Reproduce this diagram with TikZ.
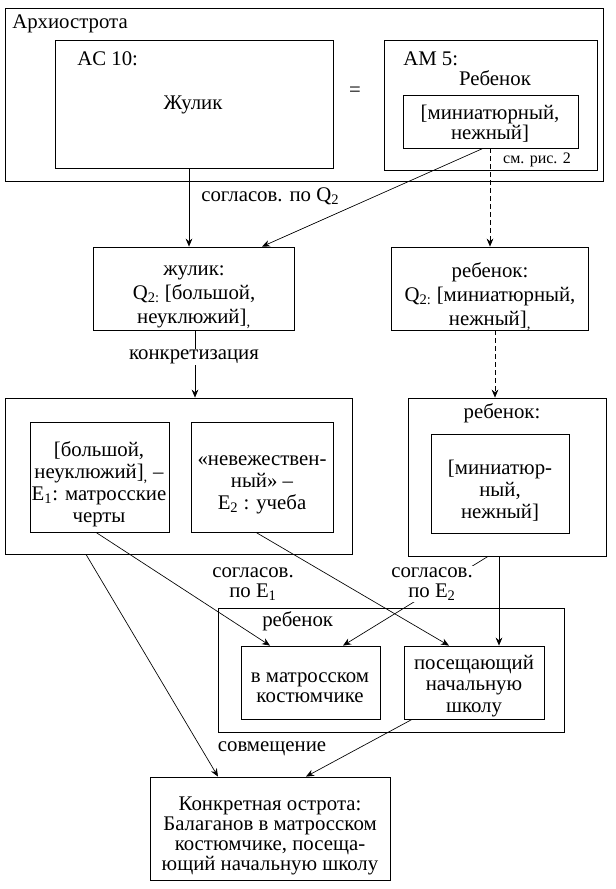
\documentclass[tikz,border=0pt]{standalone}
\usepackage{fontspec}
\setmainfont{Liberation Serif}
\usetikzlibrary{arrows.meta,fit}
\begin{document}
\begin{tikzpicture}[x=0.75pt,y=-0.75pt,
  font=\fontsize{15.6}{16.5}\selectfont,
  box/.style={draw, line width=0.6pt, inner sep=0pt},
  txt/.style={align=center, inner sep=0pt},
  lbl/.style={inner sep=0pt, anchor=mid west},
  arr/.style={-{Stealth[length=6pt,width=5pt]}, line width=0.5pt},
  dsh/.style={arr, dash pattern=on 3.5pt off 2.5pt},
  cover/.style={txt, fill=white, inner sep=1pt},
  wide/.style={font=\fontsize{15.6}{18}\selectfont},
  tight/.style={font=\fontsize{15.6}{15}\selectfont}]
\useasboundingbox (0,0) rectangle (616,889);

% top block
\node[box, fit={(5,8) (603,181)}] (arch) {};
\node[lbl] (archl) at (12,25) {Архиострота};
\node[box, fit={(55,40) (333,168)}] (ac) {};
\node[inner sep=0pt, anchor=base west] (acl) at (77,65) {AC 10:};
\node[txt, anchor=mid] (zhul) at (193,106) {Жулик};
\node[txt] (eq) at (355,92) {=};
\node[box, fit={(384,40) (597,170)}] (am) {};
\node[inner sep=0pt, anchor=base west] (aml) at (403,65) {AM 5:};
\node[box, fit={(403,95) (578,148)}] (amin) {};
\node[inner sep=0pt, anchor=base] (rebl) at (495,85) {Ребенок};
\node[txt, tight] at (490,124) {[миниатюрный,\\нежный]};
\node[inner sep=0pt, anchor=base, font=\fontsize{12}{14}\selectfont] (see) at (537,163) {см. рис. 2};

% second row
\node[box, fit={(93,247) (294,330)}] (zh) {};
\node[txt, wide] at (194,297) {жулик:\\Q\textsubscript{2:} [большой,\\неуклюжий]\textsubscript{,}};
\node[box, fit={(391,247) (588,330)}] (reb) {};
\node[txt, wide] at (490,297) {ребенок:\\Q\textsubscript{2:} [миниатюрный,\\нежный]\textsubscript{,}};

\draw[arr] (ac.south -| 189,0) -- (zh.north -| 189,0);
\node[lbl] (sq) at (201,198) {согласов. по Q\textsubscript{2}};
\draw[arr] (amin.south -| 483,0) -- (zh.north -| 262,0);
\draw[dsh] (amin.south -| 490,0) -- (reb.north -| 490,0);

% third row
\node[box, fit={(5,398) (352,554)}] (lbig) {};
\node[box, fit={(30,422) (169,532)}] (l1) {};
\node[txt] at (99,484) {[большой,\\неуклюжий]\textsubscript{,} –\\E\textsubscript{1}: матросские\\черты};
\node[box, fit={(191,422) (333,532)}] (l2) {};
\node[txt] at (262,485) {«невежествен-\\ный» –\\E\textsubscript{2} : учеба};
\node[box, fit={(408,398) (606,556)}] (rbig) {};
\node[inner sep=0pt, anchor=mid] (rebl2) at (502,415) {ребенок:};
\node[box, fit={(431,434) (569,533)}] (rin) {};
\node[txt] at (500,491) {[миниатюр-\\ный,\\нежный]};

\draw[arr] (zh.south -| 195,0) -- (lbig.north -| 195,0);
\node[cover] (konk) at (194,357) {конкретизация};
\draw[dsh] (reb.south -| 495,0) -- (rbig.north -| 495,0);

% fourth row
\node[box, fit={(218,608) (564,732)}] (rebc) {};
\node[lbl] (rebcl) at (262,623) {ребенок};
\node[box, fit={(241,646) (380,719)}] (m1) {};
\node[txt, tight] at (310,688) {в матросском\\костюмчике};
\node[box, fit={(404,646) (544,719)}] (m2) {};
\node[txt, font=\fontsize{15.6}{16}\selectfont] at (474,686) {посещающий\\начальную\\школу};

\draw[arr] (l1.south -| 96,0) -- (m1.north -| 270,0);
\draw[arr] (l2.south -| 256,0) -- (m2.north -| 449,0);
\draw[arr] (rbig.south -| 488,0) -- (m1.north -| 343,0);
\draw[arr] (rbig.south -| 499,0) -- (m2.north -| 499,0);
\node[txt, tight] (se1) at (253,584) {согласов.\\по E\textsubscript{1}};
\node[cover, tight] (se2) at (432,584) {согласов.\\по E\textsubscript{2}};

% final
\node[box, fit={(150,777) (390,880)}] (fin) {};
\node[txt, tight] at (270,836) {Конкретная острота:\\Балаганов в матросском\\костюмчике, посеща-\\ющий начальную школу};
\draw[arr] (lbig.south -| 86,0) -- (fin.north -| 218,0);
\draw[arr] (m2.south -| 412,0) -- (fin.north -| 306,0);
\node[txt, anchor=mid] (sovm) at (272,748) {совмещение};
\end{tikzpicture}
\end{document}
